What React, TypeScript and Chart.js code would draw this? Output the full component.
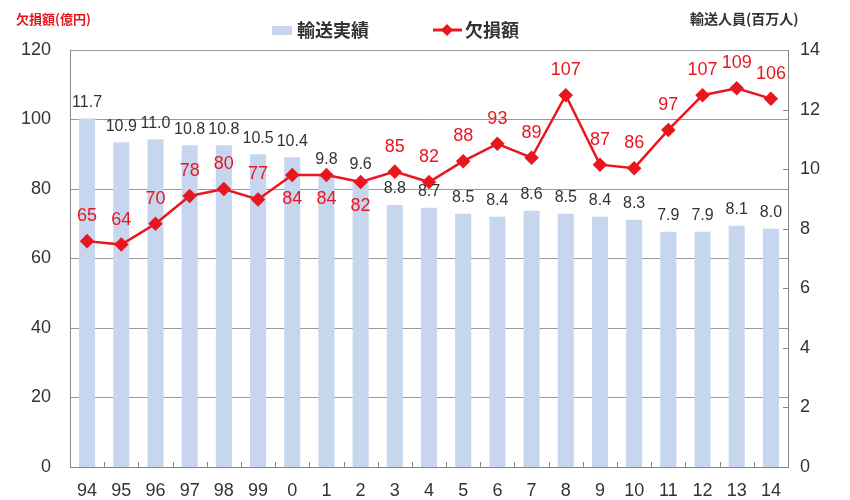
import React, { useEffect, useRef } from "react";
import { Chart, registerables } from "chart.js";

Chart.register(...registerables);

const categories = ["94", "95", "96", "97", "98", "99", "0", "1", "2", "3", "4", "5", "6", "7", "8", "9", "10", "11", "12", "13", "14"];
const passengers = [11.7, 10.9, 11.0, 10.8, 10.8, 10.5, 10.4, 9.8, 9.6, 8.8, 8.7, 8.5, 8.4, 8.6, 8.5, 8.4, 8.3, 7.9, 7.9, 8.1, 8.0];
const deficit = [65, 64, 70, 78, 80, 77, 84, 84, 82, 85, 82, 88, 93, 89, 107, 87, 86, 97, 107, 109, 106];
const deficitBelow = [6, 7, 8];

const FONT = "'Liberation Sans', Arial, sans-serif";
const CJK = "'Noto Sans CJK JP', 'Noto Sans', sans-serif";
const RED = "#e8171f";
const BLUE = "#c6d6ef";
const DARK = "#333333";

const overlay = {
  id: "overlay",
  afterDatasetsDraw(chart: any) {
    const ctx = chart.ctx;
    const area = chart.chartArea;
    const x = chart.scales.x;
    const y1 = chart.scales.y1;
    ctx.save();
    // x-axis tick marks between categories
    ctx.strokeStyle = "#888";
    ctx.lineWidth = 1;
    for (let i = 1; i < categories.length; i++) {
      const px = Math.round((x.getPixelForValue(i - 1) + x.getPixelForValue(i)) / 2) + 0.5;
      ctx.beginPath();
      ctx.moveTo(px, area.bottom);
      ctx.lineTo(px, area.bottom - 5);
      ctx.stroke();
    }
    // right axis inner ticks
    for (let v = 2; v <= 12; v += 2) {
      const py = Math.round(y1.getPixelForValue(v)) + 0.5;
      ctx.beginPath();
      ctx.moveTo(area.right, py);
      ctx.lineTo(area.right - 5, py);
      ctx.stroke();
    }
    // bar labels
    const barMeta = chart.getDatasetMeta(0);
    ctx.font = `16px ${FONT}`;
    ctx.fillStyle = DARK;
    ctx.textAlign = "center";
    ctx.textBaseline = "middle";
    barMeta.data.forEach((el: any, i: number) => {
      ctx.fillText(passengers[i].toFixed(1), el.x, el.y - 16);
    });
    // line labels
    const lineMeta = chart.getDatasetMeta(1);
    ctx.font = `18px ${FONT}`;
    ctx.fillStyle = RED;
    lineMeta.data.forEach((el: any, i: number) => {
      const below = deficitBelow.includes(i);
      ctx.fillText(String(deficit[i]), el.x, below ? el.y + 24 : el.y - 25);
    });
    // axis titles
    ctx.textAlign = "left";
    ctx.font = `bold 13px ${CJK}`;
    ctx.fillStyle = RED;
    ctx.fillText("欠損額(億円)", 16, 19);
    ctx.font = `bold 14px ${CJK}`;
    ctx.fillStyle = DARK;
    ctx.fillText("輸送人員(百万人)", 690, 19);
    // legend
    ctx.fillStyle = BLUE;
    ctx.fillRect(272, 26, 20, 9);
    ctx.font = `bold 18px ${CJK}`;
    ctx.fillStyle = DARK;
    ctx.fillText("輸送実績", 297, 30);
    ctx.strokeStyle = RED;
    ctx.lineWidth = 3;
    ctx.beginPath();
    ctx.moveTo(433, 30);
    ctx.lineTo(462, 30);
    ctx.stroke();
    ctx.fillStyle = RED;
    ctx.beginPath();
    ctx.moveTo(447, 24);
    ctx.lineTo(453, 30);
    ctx.lineTo(447, 36);
    ctx.lineTo(441, 30);
    ctx.closePath();
    ctx.fill();
    ctx.fillStyle = DARK;
    ctx.fillText("欠損額", 465, 30);
    ctx.restore();
  },
};

export default function App() {
  const ref = useRef<HTMLCanvasElement>(null);
  useEffect(() => {
    document.body.style.margin = "0";
    const chart = new Chart(ref.current!, {
      type: "bar",
      data: {
        labels: categories,
        datasets: [
          {
            type: "bar",
            label: "輸送実績",
            data: passengers,
            yAxisID: "y1",
            backgroundColor: BLUE,
            barPercentage: 0.47,
            categoryPercentage: 1,
            order: 2,
          },
          {
            type: "line",
            label: "欠損額",
            data: deficit,
            yAxisID: "y",
            borderColor: RED,
            backgroundColor: RED,
            borderWidth: 2.5,
            pointStyle: "rectRot",
            pointRadius: 5.5,
            pointHoverRadius: 5.5,
            tension: 0,
            order: 1,
          } as any,
        ],
      },
      options: {
        responsive: false,
        animation: false,
        layout: { padding: { top: 50, left: 0, right: 0, bottom: 0 } },
        plugins: { legend: { display: false }, tooltip: { enabled: false } },
        scales: {
          x: {
            offset: true,
            grid: { display: false, drawTicks: false },
            border: { display: true, color: "#888" },
            ticks: { color: DARK, font: { size: 18, family: FONT }, padding: 13, maxRotation: 0 },
            afterFit: (s: any) => { s.height = 33; },
          },
          y: {
            position: "left",
            min: 0,
            max: 120,
            ticks: { stepSize: 20, color: DARK, font: { size: 18, family: FONT }, padding: 19 },
            grid: { color: "#999", drawTicks: false, lineWidth: 1 },
            border: { display: true, color: "#888" },
            afterFit: (s: any) => { s.width = 70; },
          },
          y1: {
            position: "right",
            min: 0,
            max: 14,
            ticks: { stepSize: 2, color: DARK, font: { size: 18, family: FONT }, padding: 12 },
            grid: { display: false, drawTicks: false },
            border: { display: true, color: "#888" },
            afterFit: (s: any) => { s.width = 62; },
          },
        },
      },
      plugins: [overlay],
    });
    return () => chart.destroy();
  }, []);
  return <canvas ref={ref} width={850} height={500} style={{ display: "block" }} />;
}
